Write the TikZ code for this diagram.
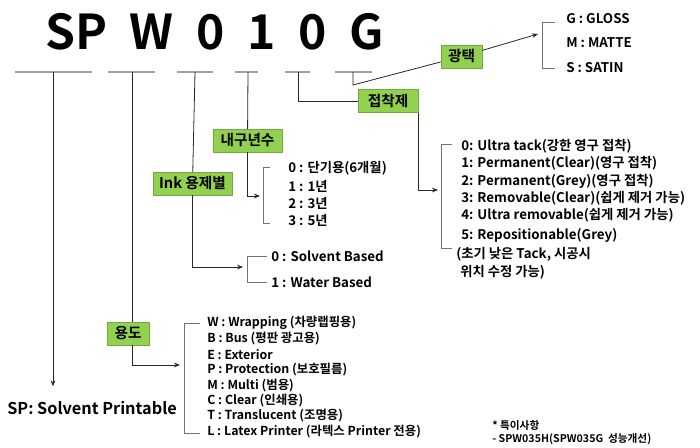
\documentclass[tikz,border=0pt]{standalone}
\usepackage{fontspec}
\setmainfont{Noto Sans CJK KR}[BoldFont={Noto Sans CJK KR Bold}]
\usetikzlibrary{arrows.meta}

\definecolor{tagGreen}{RGB}{146,208,80}
\definecolor{lineGrey}{RGB}{160,160,160}

\newcommand\codefont{\bfseries\fontsize{36}{40}\selectfont\spaceskip=17pt\relax}

\tikzset{
  tag/.style={fill=tagGreen, draw=tagGreen!80!black, line width=0.3pt, inner sep=0pt, minimum height=17pt, font=\bfseries\fontsize{11}{12}\selectfont},
  item/.style={anchor=west, inner sep=0.75pt, font=\bfseries\fontsize{10}{11}\selectfont},
  useitem/.style={item, font=\bfseries\fontsize{9.3}{11}\selectfont},
  uline/.style={draw=lineGrey, line width=1pt},
  link/.style={draw=black!85, line width=0.6pt},
  bracket/.style={draw=black!55, line width=0.6pt},
  arr/.style={-{Stealth[length=4.5pt,width=3.5pt]}}
}

\begin{document}
\begin{tikzpicture}[x=0.75pt,y=0.75pt,yscale=-1,xscale=1]
\useasboundingbox (0,0) rectangle (700,448);

\node (code) [anchor=base west, inner sep=0pt, font=\codefont] at (45,50) {SP W 0 1 0 G};

\foreach \n/\a/\b/\m in {1/15/92/53, 2/108/155/132, 3/177/213/195, 4/235/258/248, 5/285/310/298, 6/335/372/353}{
  \draw[uline] (\a,72) -- (\b,72);
  \coordinate (u\n) at (\m,72);
}

% tags
\node (gt) [tag, minimum width=30.75pt] at (461.5,56.5) {광택};
\node (jc) [tag, minimum width=45pt] at (388,101) {접착제};
\node (ns) [tag, minimum width=52pt] at (247.5,140.5) {내구년수};
\node (ink) [tag, minimum width=59pt] at (192.5,183.5) {Ink 용제별};
\node (yd) [tag, minimum width=31.5pt] at (128,333.5) {용도};
\node (sp) [anchor=west, inner sep=0pt, font=\bfseries\fontsize{12.2}{15}\selectfont] at (7,408) {SP: Solvent Printable};

% arrow targets
\coordinate (gtIn) at (538,34);
\coordinate (jcIn) at (438,190);
\coordinate (nsIn) at (260,196);
\coordinate (inkIn) at (243,267);
\coordinate (ydIn) at (180,365);

% connectors
\draw[link, arr, shorten >=11pt] (u1) -- (u1 |- sp.north) ;
\draw[link] (u2) -- (u2 |- yd.north) ;
\draw[link, arr] (u2 |- yd.south) |- (ydIn) ;
\draw[link] (u3) -- (ink) ;
\draw[link, arr] (ink) |- (inkIn) ;
\draw[link] (u4) -- (ns) ;
\draw[link, arr] (ns) |- (nsIn) ;
\draw[link] (u5) |- (jc) ;
\draw[link, arr] (jc.south east) |- (jcIn) ;
\draw[link] (u6) -- ++(0,13) -- (gt) ;
\draw[link, arr] (gt) -- (gtIn) ;

% brackets
\draw[bracket] (555,22) -- (542,22) -- (542,68) -- (555,68) ;
\draw[bracket] (452,144) -- (441,144) -- (441,248) -- (452,248) ;
\draw[bracket] (270,167) -- (263,167) -- (263,223) -- (270,223) ;
\draw[bracket] (267,256) -- (247,256) -- (247,282) -- (267,282) ;
\draw[bracket] (200,323) -- (184,323) -- (184,433) -- (200,433) ;

% gloss
\node (g1) [item] at (565,19) {G : GLOSS};
\node (g2) [item] at (565,43) {M : MATTE};
\node (g3) [item] at (565,68) {S : SATIN};

% adhesive
\node (jc0) [item] at (460,146) {0: Ultra tack(강한 영구 접착)};
\node (jc1) [item] at (460,163) {1: Permanent(Clear)(영구 접착)};
\node (jc2) [item] at (460,181) {2: Permanent(Grey)(영구 접착)};
\node (jc3) [item] at (460,198) {3: Removable(Clear)(쉽게 제거 가능)};
\node (jc4) [item] at (460,215) {4: Ultra removable(쉽게 제거 가능)};
\node (jc5) [item] at (460,235) {5: Repositionable(Grey)};
\node (jc6) [item] at (455,254) {(초기 낮은 Tack, 시공시};
\node (jc7) [item] at (459,272) {위치 수정 가능)};

% durability
\node (ns0) [item] at (287,168) {0 : 단기용(6개월)};
\node (ns1) [item] at (287,186) {1 : 1년};
\node (ns2) [item] at (287,203) {2 : 3년};
\node (ns3) [item] at (287,220) {3 : 5년};

% ink
\node (ink0) [item] at (270,256) {0 : Solvent Based};
\node (ink1) [item] at (270,282) {1 : Water Based};

% use
\node (yd1) [useitem] at (206,323) {W : Wrapping (차량랩핑용)};
\node (yd2) [useitem] at (206,339) {B : Bus (평판 광고용)};
\node (yd3) [useitem] at (206,355) {E : Exterior};
\node (yd4) [useitem] at (206,370) {P : Protection (보호필름)};
\node (yd5) [useitem] at (206,386) {M : Multi (범용)};
\node (yd6) [useitem] at (206,401) {C : Clear (인쇄용)};
\node (yd7) [useitem] at (206,416) {T : Translucent (조명용)};
\node (yd8) [useitem] at (206,432) {L : Latex Printer (라텍스 Printer 전용)};

% note
\node (note1) [anchor=west, inner sep=0pt, font=\bfseries\fontsize{8}{9}\selectfont] at (492,425) {* 특이사항};
\node (note2) [anchor=west, inner sep=0pt, font=\bfseries\fontsize{8}{9}\selectfont] at (492,439) {- SPW035H(SPW035G\ \ 성능개선)};

\end{tikzpicture}
\end{document}
